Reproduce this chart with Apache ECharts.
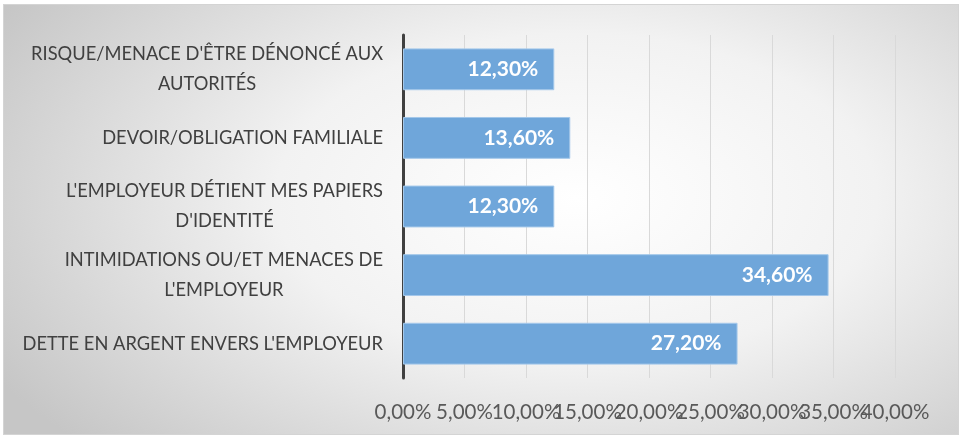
<!DOCTYPE html>
<html>
<head>
<meta charset="utf-8">
<script src="https://cdn.jsdelivr.net/npm/echarts@6/dist/echarts.min.js"></script>
<style>
  html, body { margin: 0; padding: 0; background: #fff; }
  .frame {
    position: absolute; left: 3px; top: 4px; width: 954px; height: 429px;
    border: 1px solid #d4d4d4;
    background: radial-gradient(ellipse 70% 85% at 60% 45%, #ffffff 0%, #f2f2f2 45%, #c6c6c6 100%);
  }
  #chart { position: absolute; left: 0; top: 0; width: 962px; height: 437px; }
</style>
</head>
<body>
<div class="frame"></div>
<div id="chart"></div>
<script>
// categories, top to bottom
const categories = [
  "RISQUE/MENACE D'ÊTRE DÉNONCÉ AUX\nAUTORITÉS",
  "DEVOIR/OBLIGATION FAMILIALE",
  "L'EMPLOYEUR DÉTIENT MES PAPIERS\nD'IDENTITÉ",
  "INTIMIDATIONS OU/ET MENACES DE\nL'EMPLOYEUR",
  "DETTE EN ARGENT ENVERS L'EMPLOYEUR"
];
const values = [12.3, 13.6, 12.3, 34.6, 27.2];
const axisMax = 40;
const axisStep = 5;

const pct = (v) => v.toFixed(2).replace(".", ",") + "%";

const tickLabel = {
  fontSize: 20.5,
  color: "#595959",
  margin: 24,
  hideOverlap: false
};

const chart = echarts.init(document.getElementById("chart"), null, { renderer: "canvas" });
chart.setOption({
  backgroundColor: "transparent",
  textStyle: { fontFamily: "Lato" },
  grid: { left: 403, right: 67, top: 35, bottom: 59 },
  xAxis: [
    {
      type: "value",
      min: 0,
      max: axisMax,
      interval: axisStep,
      axisLine: { show: false },
      axisTick: { show: false },
      splitLine: { lineStyle: { color: "#d9d9d9", width: 1 } },
      axisLabel: Object.assign({}, tickLabel, {
        formatter: pct,
        showMinLabel: true,
        showMaxLabel: false
      })
    },
    {
      // only carries the last tick label, which the first axis would drop on overlap
      type: "value",
      position: "bottom",
      min: 0,
      max: axisMax,
      interval: axisMax,
      axisLine: { show: false },
      axisTick: { show: false },
      splitLine: { show: false },
      axisLabel: Object.assign({}, tickLabel, {
        formatter: (v) => (v === axisMax ? pct(v) : ""),
        showMaxLabel: true
      })
    }
  ],
  yAxis: {
    type: "category",
    inverse: true,
    data: categories,
    axisLine: { lineStyle: { color: "#404040", width: 3 } },
    axisTick: { show: false },
    axisLabel: {
      color: "#404040",
      fontSize: 18.3,
      align: "right",
      margin: 20,
      formatter: (v) => v.split("\n").map((l) => "{c|" + l + "}").join("\n"),
      rich: {
        c: { align: "center", fontSize: 18.3, color: "#404040", lineHeight: 30, fontFamily: "Lato" }
      }
    }
  },
  series: [
    {
      type: "bar",
      xAxisIndex: 0,
      data: values,
      barCategoryGap: "39%",
      itemStyle: { color: "#6fa6da", borderColor: "#a4c8ea", borderWidth: 1 },
      label: {
        show: true,
        position: "insideRight",
        distance: 16,
        formatter: (p) => pct(p.value),
        color: "#ffffff",
        fontSize: 21,
        fontWeight: "bold",
        fontFamily: "Lato"
      }
    }
  ]
});
</script>
</body>
</html>
